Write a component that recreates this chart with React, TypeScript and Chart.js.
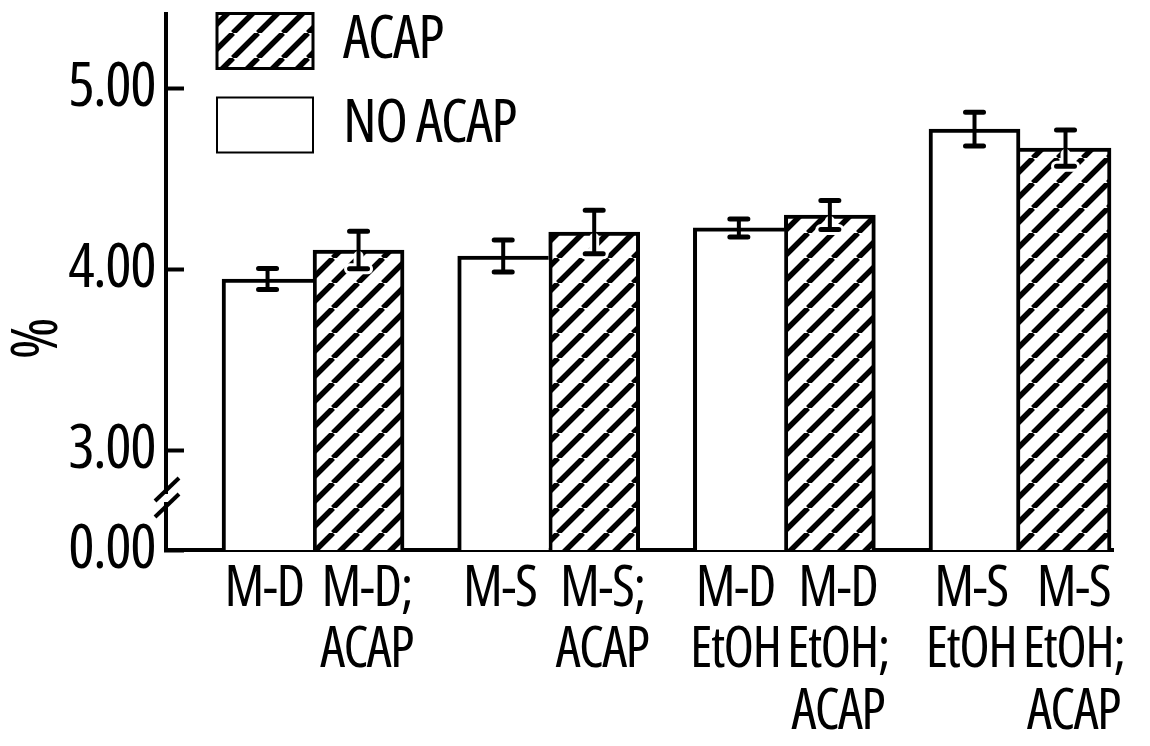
import React, { useEffect, useRef } from "react";
import { Chart, registerables } from "chart.js";

Chart.register(...registerables);

// ---- data ----
const CATEGORY_X = [1, 2, 3, 4]; // group positions on the x scale
const BAR_LABELS: string[][] = [
  ["M-D"],
  ["M-D;", "ACAP"],
  ["M-S"],
  ["M-S;", "ACAP"],
  ["M-D", "EtOH"],
  ["M-D", "EtOH;", "ACAP"],
  ["M-S", "EtOH"],
  ["M-S", "EtOH;", "ACAP"],
];
const NO_ACAP = [3.945, 4.072, 4.227, 4.773];
const NO_ACAP_ERR = [0.058, 0.088, 0.05, 0.093];
const ACAP = [4.105, 4.204, 4.298, 4.668];
const ACAP_ERR = [0.104, 0.12, 0.08, 0.1];
// broken axis: the bottom of the axis stands for 0.00
const AXIS_ZERO = 2.4475;
const Y_TICK_VALUES = [AXIS_ZERO, 3, 4, 5];
const Y_TICK_LABELS = ["0.00", "3.00", "4.00", "5.00"];
const Y_MAX = 5.409;
const X_MIN = 0.376;
const X_MAX = 4.3946;
const LEFT_LABEL_OFFSET = -0.208; // label position of the plain bar, relative to its group (x units)
const RIGHT_LABEL_OFFSET = 0.227; // label position of the hatched bar, relative to its group (x units)

const FAMILY = "'Open Sans'";

function makeHatch(): CanvasPattern | string {
  const s = 25;
  const c = document.createElement("canvas");
  c.width = s;
  c.height = s;
  const p = c.getContext("2d")!;
  p.fillStyle = "#fff";
  p.fillRect(0, 0, s, s);
  p.strokeStyle = "#000";
  p.lineWidth = 5.5;
  p.beginPath();
  for (let k = -1; k <= 1; k++) {
    p.moveTo(k * s, s);
    p.lineTo(k * s + s, 0);
  }
  p.stroke();
  const pat = p.createPattern(c, "repeat");
  return pat || "#fff";
}

const tightText = {
  id: "tightText",
  beforeDraw(chart: any) {
    (chart.ctx as any).letterSpacing = "-1.5px";
  },
  afterDraw(chart: any) {
    (chart.ctx as any).letterSpacing = "0px";
  },
};

const errorBars = {
  id: "errorBars",
  afterDatasetsDraw(chart: any) {
    const ctx = chart.ctx;
    const ys = chart.scales.y;
    const sets = [
      { vals: NO_ACAP, errs: NO_ACAP_ERR, hatched: false },
      { vals: ACAP, errs: ACAP_ERR, hatched: true },
    ];
    sets.forEach((set, di) => {
      const meta = chart.getDatasetMeta(di);
      meta.data.forEach((bar: any, j: number) => {
        const x = bar.x;
        const yt = ys.getPixelForValue(set.vals[j] + set.errs[j]);
        const yb = ys.getPixelForValue(set.vals[j] - set.errs[j]);
        const barTop = bar.y;
        ctx.save();
        if (set.hatched) {
          ctx.strokeStyle = "#fff";
          ctx.lineCap = "round";
          ctx.lineWidth = 10;
          ctx.beginPath();
          ctx.moveTo(x, barTop + 6);
          ctx.lineTo(x, yb);
          ctx.stroke();
          ctx.lineWidth = 11;
          ctx.beginPath();
          ctx.moveTo(x - 9, yb);
          ctx.lineTo(x + 9, yb);
          ctx.stroke();
        }
        ctx.strokeStyle = "#000";
        ctx.lineCap = "butt";
        ctx.lineWidth = 4;
        ctx.beginPath();
        ctx.moveTo(x, yt);
        ctx.lineTo(x, yb);
        ctx.stroke();
        ctx.lineCap = "round";
        ctx.lineWidth = 5;
        ctx.beginPath();
        ctx.moveTo(x - 9, yt);
        ctx.lineTo(x + 9, yt);
        ctx.moveTo(x - 9, yb);
        ctx.lineTo(x + 9, yb);
        ctx.stroke();
        ctx.restore();
      });
    });
  },
};

const axisBreak = {
  id: "axisBreak",
  afterDraw(chart: any) {
    const ctx = chart.ctx;
    const ys = chart.scales.y;
    const ax = chart.chartArea.left;
    const mid = (ys.getPixelForValue(3) + ys.getPixelForValue(AXIS_ZERO)) / 2;
    ctx.save();
    ctx.fillStyle = "#fff";
    ctx.fillRect(ax - 4, mid - 6, 8, 8);
    ctx.strokeStyle = "#000";
    ctx.lineWidth = 4;
    ctx.lineCap = "butt";
    [mid - 10, mid + 6].forEach((cy) => {
      ctx.beginPath();
      ctx.moveTo(ax - 11, cy + 11);
      ctx.lineTo(ax + 13, cy - 12);
      ctx.stroke();
    });
    ctx.restore();
  },
};

const legendShift = {
  id: "legendShift",
  afterLayout(chart: any) {
    const lg = chart.legend;
    if (!lg) return;
    lg.left += 27;
    lg.right += 27;
    lg.top -= 21;
    lg.bottom -= 21;
  },
};

export default function App() {
  const ref = useRef<HTMLCanvasElement>(null);
  useEffect(() => {
    const hatch = makeHatch();
    const sideWidths = (ds: number) => (c: any) => {
      if (c.type !== "data") return 4;
      const i = c.dataIndex;
      const a = NO_ACAP[i];
      const b = ACAP[i];
      if (ds === 0) return { top: 4, left: 4, bottom: 0, right: a >= b ? 4 : 0 };
      return { top: 4, right: 4, bottom: 0, left: b > a ? 4 : 0 };
    };
    const chart = new Chart(ref.current!, {
      type: "bar",
      data: {
        datasets: [
          {
            label: "NO ACAP",
            data: CATEGORY_X.map((x, i) => ({ x, y: NO_ACAP[i] })),
            backgroundColor: "#fff",
            borderColor: "#000",
            borderWidth: sideWidths(0) as any,
            borderSkipped: false,
            barThickness: 91,
          },
          {
            label: "ACAP",
            data: CATEGORY_X.map((x, i) => ({ x, y: ACAP[i] })),
            backgroundColor: hatch as any,
            borderColor: "#000",
            borderWidth: sideWidths(1) as any,
            borderSkipped: false,
            barThickness: 91,
          },
        ],
      },
      options: {
        animation: false,
        responsive: true,
        maintainAspectRatio: false,
        layout: { padding: { top: 6, right: 29, bottom: 0, left: 0 } },
        plugins: {
          tooltip: { enabled: false },
          legend: {
            position: "chartArea",
            align: "start",
            reverse: true,
            labels: {
              boxWidth: 96,
              boxHeight: 55,
              padding: 24,
              color: "#000",
              font: { family: FAMILY, size: 60, weight: "condensed" as any },
            },
          },
        },
        scales: {
          x: {
            type: "linear",
            min: X_MIN,
            max: X_MAX,
            offset: false,
            afterBuildTicks: (s: any) => {
              const t: any[] = [];
              CATEGORY_X.forEach((g) => {
                t.push({ value: g + LEFT_LABEL_OFFSET });
                t.push({ value: g + RIGHT_LABEL_OFFSET });
              });
              s.ticks = t;
            },
            afterFit: (s: any) => {
              s.height = 188;
              s.paddingLeft = 0;
              s.paddingRight = 0;
            },
            ticks: {
              autoSkip: false,
              maxRotation: 0,
              minRotation: 0,
              padding: 9,
              color: "#000",
              font: { family: FAMILY, size: 56, weight: "condensed" as any, lineHeight: 1.1 },
              callback: (_v: any, i: number) => BAR_LABELS[i],
            },
            grid: { display: false, drawTicks: false },
            border: { display: true, width: 4, color: "#000" },
          },
          y: {
            type: "linear",
            min: AXIS_ZERO,
            max: Y_MAX,
            afterBuildTicks: (s: any) => {
              s.ticks = Y_TICK_VALUES.map((v) => ({ value: v }));
            },
            afterFit: (s: any) => {
              s.width = 158;
              s.paddingTop = 0;
              s.paddingBottom = 0;
            },
            ticks: {
              autoSkip: false,
              padding: 29,
              color: "#000",
              font: { family: FAMILY, size: 62, weight: "condensed" as any },
              callback: (_v: any, i: number) => Y_TICK_LABELS[i],
            },
            grid: {
              display: true,
              drawOnChartArea: false,
              drawTicks: true,
              tickLength: -18,
              tickWidth: 4,
              tickColor: "#000",
            },
            border: { display: true, width: 4, color: "#000" },
            title: {
              display: true,
              text: "%           ",
              color: "#000",
              padding: 0,
              font: { family: FAMILY, size: 64, weight: "condensed" as any, lineHeight: 0.95 },
            },
          },
        },
      },
      plugins: [tightText, errorBars, axisBreak, legendShift],
    });
    return () => chart.destroy();
  }, []);
  return (
    <div style={{ width: 1134, height: 730, position: "relative" }}>
      <canvas ref={ref} />
    </div>
  );
}
